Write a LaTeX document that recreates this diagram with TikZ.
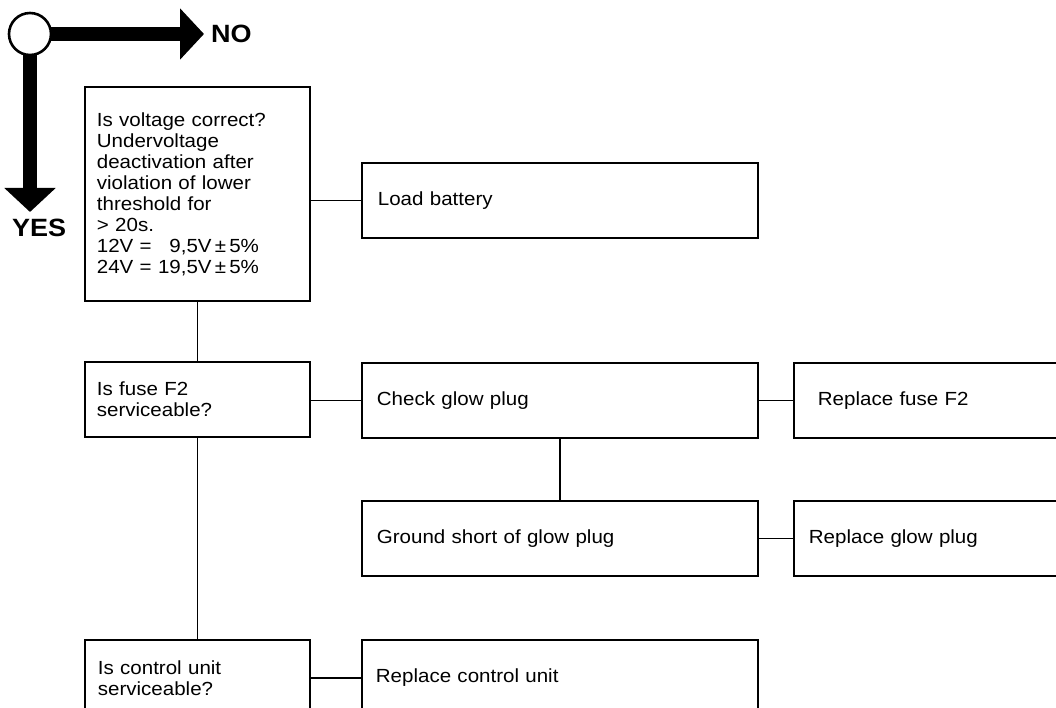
\documentclass[tikz,border=0pt]{standalone}
\usepackage{fontspec}
\setmainfont[FakeStretch=1.08]{Liberation Sans}
\usetikzlibrary{arrows.meta}
\begin{document}
\begin{tikzpicture}[x=1pt,y=-1pt,
  box/.style={draw, line width=1.8pt, rectangle, anchor=north west, align=left,
    inner ysep=0pt, font=\fontsize{19}{21}\selectfont},
  conn/.style={line width=1.7pt},
  bigarrow/.style={line width=14pt, -{Triangle[width=50pt,length=24pt]}},
  bigword/.style={font=\bfseries\fontsize{25}{25}\selectfont, anchor=west, inner sep=0pt}]
\useasboundingbox (0,0) rectangle (1056,708);
\clip (0,0) rectangle (1056,708);
\fill[white] (0,0) rectangle (1056,708);

% decision symbol
\coordinate (c) at (30,34);
\coordinate (notip) at (204,34);
\coordinate (yestip) at (30,212);
\draw[bigarrow] (c) -- (notip);
\draw[bigarrow] (c) -- (yestip);
\node[circle, draw, line width=2.6pt, fill=white, minimum size=42pt, inner sep=0pt] (dec) at (c) {};
\node[bigword] (no) at (211,34) {NO};
\node[bigword] (yes) at (12,228) {YES};

% boxes
\node[box, minimum width=225pt, minimum height=214pt, text width=201pt, inner xsep=12pt] (b1) at (84,86)
  {Is voltage correct?\\Undervoltage\\deactivation after\\violation of lower\\threshold for\\> 20s.\\12V = \phantom{1}9,5V\,±\,5\%\\24V = 19,5V\,±\,5\%};
\node[box, minimum width=396pt, minimum height=75pt, text width=364pt, inner xsep=16pt] (load) at (361,162) {Load battery};
\node[box, minimum width=225pt, minimum height=75pt, text width=201pt, inner xsep=12pt] (fuse) at (84,361) {Is fuse F2\\serviceable?};
\node[box, minimum width=396pt, minimum height=75pt, text width=366pt, inner xsep=15pt] (check) at (361,362) {Check glow plug};
\node[box, minimum width=320pt, minimum height=75pt, text width=272pt, inner xsep=24pt] (rfuse) at (793,362) {Replace fuse F2};
\node[box, minimum width=396pt, minimum height=75pt, text width=366pt, inner xsep=15pt] (ground) at (361,500) {Ground short of glow plug};
\node[box, minimum width=320pt, minimum height=75pt, text width=290pt, inner xsep=15pt] (rglow) at (793,500) {Replace glow plug};
\node[box, minimum width=225pt, minimum height=76pt, text width=199pt, inner xsep=13pt] (ctrl) at (84,639) {Is control unit\\serviceable?};
\node[box, minimum width=396pt, minimum height=76pt, text width=368pt, inner xsep=14pt] (rctrl) at (361,639) {Replace control unit};

% connectors
\draw[conn] (load.west) -- (load.west -| b1.east);
\draw[conn] (b1.south) -- (fuse.north);
\draw[conn] (check.west) -- (check.west -| fuse.east);
\draw[conn] (check.east) -- (rfuse.west);
\draw[conn] (check.south) -- (ground.north);
\draw[conn] (ground.east) -- (rglow.west);
\draw[conn] (fuse.south) -- (ctrl.north);
\draw[conn] (ctrl.east) -- (rctrl.west);
\end{tikzpicture}
\end{document}
